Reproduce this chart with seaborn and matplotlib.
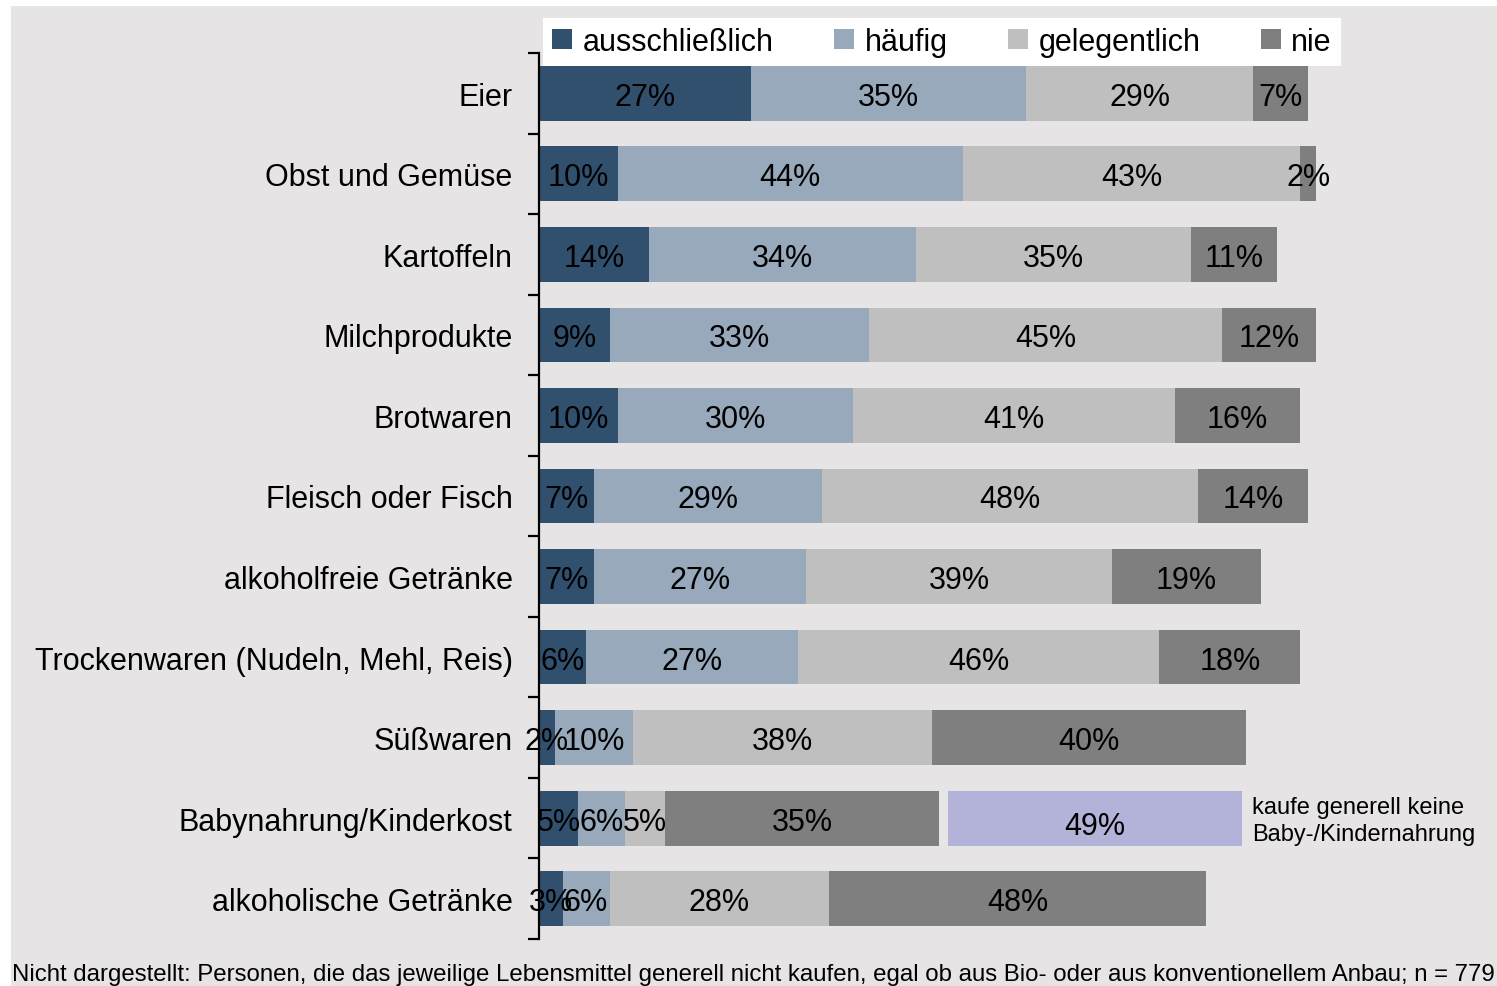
"""
Bio-Kaufverhalten nach Lebensmittelgruppe: gestapelte Balken.
"""

import numpy as np
import pandas as pd
import matplotlib
matplotlib.use("Agg")
import matplotlib.pyplot as plt
from matplotlib.patches import Patch, Rectangle
from matplotlib.ticker import FixedLocator
import seaborn as sns

# --- Data ---
categories = [
    "Eier", "Obst und Gemüse", "Kartoffeln", "Milchprodukte", "Brotwaren",
    "Fleisch oder Fisch", "alkoholfreie Getränke",
    "Trockenwaren (Nudeln, Mehl, Reis)", "Süßwaren",
    "Babynahrung/Kinderkost", "alkoholische Getränke",
]
series_names = ["ausschließlich", "häufig", "gelegentlich", "nie"]
ausschliesslich = [27, 10, 14, 9, 10, 7, 7, 6, 2, 5, 3]
haeufig = [35, 44, 34, 33, 30, 29, 27, 27, 10, 6, 6]
gelegentlich = [29, 43, 35, 45, 41, 48, 39, 46, 38, 5, 28]
nie = [7, 2, 11, 12, 16, 14, 19, 18, 40, 35, 48]

baby_none_share = 49
baby_none_text = "kaufe generell keine\nBaby-/Kindernahrung"
footnote = ("Nicht dargestellt: Personen, die das jeweilige Lebensmittel generell nicht kaufen, "
            "egal ob aus Bio- oder aus konventionellem Anbau; n = 779")

# --- Style ---
colors = ["#31506e", "#97a9bb", "#bfbfbf", "#7f7f7f"]
lavender = "#b3b3d9"
bg = "#e6e4e4"
W, H = 1497, 987
BAR_H = 0.68
FS = 22

sns.set_style("white", {"axes.facecolor": "none", "text.color": "black",
                        "ytick.color": "black", "xtick.color": "black"})
plt.rcParams["font.family"] = ["Liberation Sans", "DejaVu Sans"]

df = pd.DataFrame({"cat": categories, "ausschließlich": ausschliesslich,
                   "häufig": haeufig, "gelegentlich": gelegentlich, "nie": nie})
cum = df[series_names].cumsum(axis=1)

fig = plt.figure(figsize=(W / 100, H / 100), dpi=100, facecolor="white")
fig.patches.append(Rectangle((11 / W, 0), 1, 1 - 7 / H, transform=fig.transFigure,
                             facecolor=bg, edgecolor="none", zorder=-10))
ax = fig.add_axes([539 / W, 1 - 940 / H, 785 / W, 886 / H])

# draw cumulative totals from longest to shortest so each segment shows
for name, col in reversed(list(zip(series_names, colors))):
    sns.barplot(x=cum[name], y=df["cat"], color=col, saturation=1, width=BAR_H,
                orient="h", ax=ax, edgecolor="none", linewidth=0)

# segment labels
for i in range(len(categories)):
    left = 0
    for name in series_names:
        v = df.loc[i, name]
        ax.text(left + v / 2, i, f"{v}%", ha="center", va="center_baseline",
                fontsize=FS, color="black", clip_on=False)
        left += v

# extra bar for "kaufe generell keine Babynahrung"
bi = categories.index("Babynahrung/Kinderkost")
ax.barh(bi, 37.5, left=52.1, height=BAR_H, color=lavender, edgecolor="none", clip_on=False)
ax.text(52.1 + 37.5 / 2, bi + 0.05, f"{baby_none_share}%", ha="center", va="center_baseline",
        fontsize=FS, color="black", clip_on=False)
ax.text(90.8, bi + 0.03, baby_none_text, ha="left", va="center", fontsize=17,
        linespacing=1.25, color="black", clip_on=False)

ax.set_xlim(0, 100)
ax.set_ylim(len(categories) - 0.5, -0.5)
ax.set_xlabel("")
ax.set_ylabel("")
ax.set_xticks([])
for s in ["top", "right", "bottom"]:
    ax.spines[s].set_visible(False)
ax.spines["left"].set_linewidth(1.6)
ax.spines["left"].set_color("black")
ax.yaxis.set_minor_locator(FixedLocator(np.arange(-0.5, len(categories), 1.0)))
ax.tick_params(axis="y", which="major", length=0, pad=19, labelsize=FS, labelcolor="black")
ax.tick_params(axis="y", which="minor", length=8, width=1.6, direction="out", left=True,
               color="black")

handles = [Patch(facecolor=c, edgecolor="none") for c in colors]
leg = fig.legend(handles, series_names, loc="lower center", ncol=4, mode="expand",
                 bbox_to_anchor=(543 / W, 1 - 67 / H, 798 / W, 50 / H),
                 fontsize=FS, frameon=True, fancybox=False, framealpha=1,
                 handlelength=0.65, handleheight=0.65, handletextpad=0.35,
                 borderpad=0.3, borderaxespad=0, labelcolor="black")
leg.get_frame().set_facecolor("white")
leg.get_frame().set_edgecolor("none")

fig.text(12 / W, 12 / H, footnote, ha="left", va="center", fontsize=17.3, color="black")

fig.savefig("out.png", dpi=100, facecolor=fig.get_facecolor())
